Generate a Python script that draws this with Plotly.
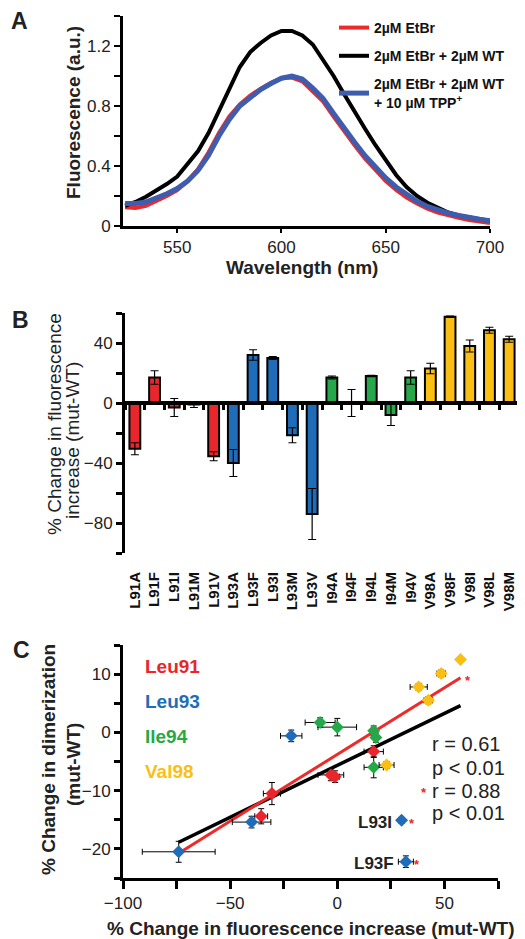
import numpy as np
import plotly.graph_objects as go

# ---------------- Panel A data ----------------
wavelength = list(range(525, 705, 5))
etbr = [0.125, 0.12, 0.135, 0.165, 0.20, 0.24, 0.30, 0.38, 0.49, 0.62, 0.73, 0.81,
        0.87, 0.915, 0.955, 0.985, 0.99, 0.965, 0.90, 0.83, 0.73, 0.63, 0.54, 0.45,
        0.37, 0.30, 0.24, 0.19, 0.15, 0.115, 0.09, 0.07, 0.055, 0.04, 0.03, 0.02]
etbr_wt = [0.135, 0.16, 0.195, 0.235, 0.28, 0.33, 0.41, 0.50, 0.62, 0.77, 0.92, 1.06,
           1.16, 1.22, 1.27, 1.30, 1.30, 1.27, 1.21, 1.11, 1.00, 0.88, 0.76, 0.65,
           0.54, 0.44, 0.34, 0.26, 0.20, 0.155, 0.12, 0.09, 0.07, 0.055, 0.045, 0.035]
etbr_wt_tpp = [0.15, 0.15, 0.16, 0.185, 0.215, 0.25, 0.30, 0.37, 0.47, 0.60, 0.71, 0.80,
               0.86, 0.91, 0.95, 0.985, 1.0, 0.98, 0.92, 0.85, 0.75, 0.65, 0.56, 0.47,
               0.39, 0.32, 0.26, 0.21, 0.165, 0.13, 0.105, 0.085, 0.07, 0.055, 0.045, 0.035]
series_names = ["2µM EtBr", "2µM EtBr + 2µM WT", "2µM EtBr + 2µM WT<br>+ 10 µM TPP<sup>+</sup>"]

# ---------------- Panel B / C data ----------------
mutants = ["L91A", "L91F", "L91I", "L91M", "L91V",
           "L93A", "L93F", "L93I", "L93M", "L93V",
           "I94A", "I94F", "I94L", "I94M", "I94V",
           "V98A", "V98F", "V98I", "V98L", "V98M"]
groups = ["Leu91"] * 5 + ["Leu93"] * 5 + ["Ile94"] * 5 + ["Val98"] * 5
fluor_change = [-30.5, 17, -3, -1, -35.5,
                -40, 32, 30, -21.5, -74,
                17, 0, 18, -8, 17,
                23, 57.5, 38, 48.5, 42.5]
fluor_err = [4, 4.5, 6, 2, 3,
             9, 3.5, 1, 5, 17,
             1, 9, 0.5, 7, 4.5,
             3.5, 0.5, 4, 2, 2]
dimer_change = [-10.5, -3.3, -7.3, -7.6, -14.4,
                -15.4, -22.2, -15.1, -0.6, -20.5,
                0.3, 0.9, -0.9, 1.7, -6.0,
                -5.6, 12.5, 7.8, 10.1, 5.5]
dimer_err = [1.9, 1.0, 1.0, 1.0, 1.3,
             1.0, 1.0, 0.5, 1.0, 1.8,
             0.8, 1.5, 0.8, 0.8, 1.8,
             0.6, 0.3, 0.6, 0.6, 0.6]
outliers = ["L93I", "L93F"]
group_order = ["Leu91", "Leu93", "Ile94", "Val98"]
stats_text = ["r = 0.61", "p < 0.01", "r = 0.88", "p < 0.01"]

RED = "#E9262B"
BLUE = "#1F6DB8"
GREEN = "#26A84A"
YELLOW = "#FBBF14"
group_colors = {"Leu91": RED, "Leu93": BLUE, "Ile94": GREEN, "Val98": YELLOW}

FONT = "Liberation Sans, Arial, sans-serif"
W, H = 525, 939
OFF = 8  # page body margin offset


def px(x):
    return (x - OFF) / W


def py(y):
    return 1 - (y - OFF) / H


fig = go.Figure()

# ---------------- Panel A ----------------
line_styles = [("#EC2A2C", 4), ("#000000", 4), ("#3E5DAE", 5)]
for name, vals, (col, lw) in zip(series_names, [etbr, etbr_wt, etbr_wt_tpp], line_styles):
    fig.add_trace(go.Scatter(x=wavelength, y=vals, mode="lines", name=name,
                             line=dict(color=col, width=lw), legendgroup=name,
                             xaxis="x", yaxis="y"))

# ---------------- Panel B ----------------
bar_colors = [group_colors[g] for g in groups]
fig.add_trace(go.Bar(x=mutants, y=fluor_change, marker=dict(color=bar_colors,
                     line=dict(color="black", width=2)),
                     error_y=dict(type="data", array=fluor_err, color="black",
                                  thickness=1.2, width=4),
                     xaxis="x2", yaxis="y2", showlegend=False))
# invisible trace to carry the zero-line category axis
fig.add_trace(go.Scatter(x=mutants, y=fluor_change, mode="markers",
                         marker=dict(opacity=0), xaxis="x4", yaxis="y2",
                         showlegend=False, hoverinfo="skip"))

# ---------------- Panel C ----------------
fx = np.array(fluor_change, dtype=float)
dy = np.array(dimer_change, dtype=float)
keep = np.array([m not in outliers for m in mutants])
b_all = np.polyfit(fx, dy, 1)
b_sub = np.polyfit(fx[keep], dy[keep], 1)
xs_all = np.array([fx.min(), fx.max()])
xs_sub = np.array([fx[keep].min(), fx[keep].max()])
fig.add_trace(go.Scatter(x=xs_all, y=np.polyval(b_all, xs_all), mode="lines",
                         line=dict(color="black", width=3.5), xaxis="x3", yaxis="y3",
                         showlegend=False))
fig.add_trace(go.Scatter(x=xs_sub, y=np.polyval(b_sub, xs_sub), mode="lines",
                         line=dict(color="#EE2A2A", width=3), xaxis="x3", yaxis="y3",
                         showlegend=False))
for g in group_order:
    idx = [i for i, gg in enumerate(groups) if gg == g]
    fig.add_trace(go.Scatter(
        x=[fluor_change[i] for i in idx], y=[dimer_change[i] for i in idx],
        mode="markers", marker=dict(symbol="diamond", size=10, color=group_colors[g]),
        error_x=dict(type="data", array=[fluor_err[i] for i in idx], color="black",
                     thickness=1, width=3),
        error_y=dict(type="data", array=[dimer_err[i] for i in idx], color="black",
                     thickness=1, width=3),
        xaxis="x3", yaxis="y3", showlegend=False))

# ---------------- Layout / axes ----------------
tickfont = dict(family=FONT, size=17, color="#222")
axis_common = dict(showline=True, linecolor="black", linewidth=3, showgrid=False,
                   zeroline=False, ticks="outside", tickcolor="black", tickfont=tickfont)

yA = [py(226), py(16)]
yB = [py(553), py(313)]
yC = [py(878), py(645)]
zero_pos = yB[0] + (0 - (-100)) / 160 * (yB[1] - yB[0])

fig.update_layout(
    width=W, height=H, margin=dict(l=0, r=0, t=0, b=0),
    paper_bgcolor="white", plot_bgcolor="white", template="none",
    font=dict(family=FONT, color="#222"),
    bargap=0.45,
    xaxis=dict(domain=[px(123), px(490)], anchor="y", range=[524, 700],
               tickvals=[550, 600, 650, 700], ticklen=4, tickwidth=2, **axis_common),
    yaxis=dict(domain=yA, anchor="x", range=[0, 1.4], tick0=0, dtick=0.4,
               ticklen=6, tickwidth=2,
               minor=dict(dtick=0.2, ticks="outside", ticklen=6, tickwidth=2,
                          tickcolor="black", showgrid=False),
               **axis_common),
    xaxis2=dict(domain=[px(125), px(519)], anchor="y2", type="category",
                categoryorder="array", categoryarray=mutants, range=[-0.5, 19.5],
                showline=False, showgrid=False, zeroline=False, ticks="",
                tickangle=-90, ticklabelstandoff=15,
                tickfont=dict(family=FONT, size=15, color="#111", weight="bold")),
    xaxis4=dict(overlaying="x2", anchor="free", position=zero_pos, type="category",
                categoryorder="array", categoryarray=mutants, range=[-0.5, 19.5],
                showline=True, linecolor="black", linewidth=3.5, showgrid=False,
                zeroline=False, ticks="outside", tickson="boundaries", ticklen=5,
                tickwidth=3, tickcolor="black", showticklabels=False),
    yaxis2=dict(domain=yB, anchor="x2", range=[-100, 60], tick0=0, dtick=40,
                ticklen=6, tickwidth=2.5,
                minor=dict(dtick=20, ticks="outside", ticklen=6, tickwidth=2.5,
                           tickcolor="black", showgrid=False),
                **axis_common),
    xaxis3=dict(domain=[px(123), px(498)], anchor="y3", range=[-100, 75], tick0=0,
                dtick=50, ticklen=8, tickwidth=3,
                minor=dict(dtick=25, ticks="outside", ticklen=8, tickwidth=3,
                           tickcolor="black", showgrid=False),
                **axis_common),
    yaxis3=dict(domain=yC, anchor="x3", range=[-25, 15], tick0=0, dtick=10,
                ticklen=6, tickwidth=3,
                minor=dict(dtick=5, ticks="outside", ticklen=6, tickwidth=3,
                           tickcolor="black", showgrid=False),
                **axis_common),
    legend=dict(x=px(334), y=py(12), xanchor="left", yanchor="top",
                font=dict(family=FONT, size=14, color="#111", weight="bold"),
                bgcolor="rgba(0,0,0,0)", tracegroupgap=7, itemclick=False),
    showlegend=True,
)

ann = []


def add_text(text, x, y, size=19, bold=True, color="#222", angle=0, xanchor="center",
             yanchor="middle"):
    ann.append(dict(text=text, x=px(x), y=py(y), xref="paper", yref="paper",
                    showarrow=False, textangle=angle, xanchor=xanchor, yanchor=yanchor,
                    font=dict(family=FONT, size=size, color=color,
                              weight="bold" if bold else "normal")))


# panel letters
add_text("A", 9, 21, size=23, xanchor="left")
add_text("B", 10, 320, size=23, xanchor="left")
add_text("C", 11, 650, size=23, xanchor="left")
# axis titles
add_text("Fluorescence (a.u.)", 73, 113, angle=-90)
add_text("Wavelength (nm)", 302, 267)
add_text("% Change in fluorescence", 54, 424, bold=False, angle=-90)
add_text("increase (mut-WT)", 72, 441, bold=False, angle=-90)
add_text("% Change in dimerization", 48, 760, angle=-90)
add_text("(mut-WT)", 73, 765, angle=-90)
add_text("% Change in fluorescence increase (mut-WT)", 311, 928)
# group labels
for g, yy in zip(group_order, [666, 701, 736, 771]):
    add_text(g, 143, yy, size=19, color=group_colors[g], xanchor="left")
# statistics text
for t, yy in zip(stats_text, [744, 768, 791, 813]):
    add_text(t, 430, yy, size=20, bold=False, color="#222", xanchor="left")
add_text("*", 424, 792, size=13, color=RED, xanchor="center")

fig.update_layout(annotations=ann)

# outlier labels and asterisks attached to data points
for m, lx, ax_ in zip(outliers, [-8, -10], [10, 11]):
    i = mutants.index(m)
    fig.add_annotation(x=fluor_change[i], y=dimer_change[i], xref="x3", yref="y3",
                       text=m, showarrow=False, xanchor="right", xshift=lx, yshift=-2,
                       font=dict(family=FONT, size=17, color="#222", weight="bold"))
    fig.add_annotation(x=fluor_change[i], y=dimer_change[i], xref="x3", yref="y3",
                       text="*", showarrow=False, xanchor="center", xshift=ax_, yshift=-3,
                       font=dict(family=FONT, size=13, color=RED, weight="bold"))
fig.add_annotation(x=xs_sub[1], y=float(np.polyval(b_sub, xs_sub[1])), xref="x3", yref="y3",
                   text="*", showarrow=False, xanchor="center", xshift=7, yshift=-3,
                   font=dict(family=FONT, size=13, color=RED, weight="bold"))

fig.write_html("out.html")
